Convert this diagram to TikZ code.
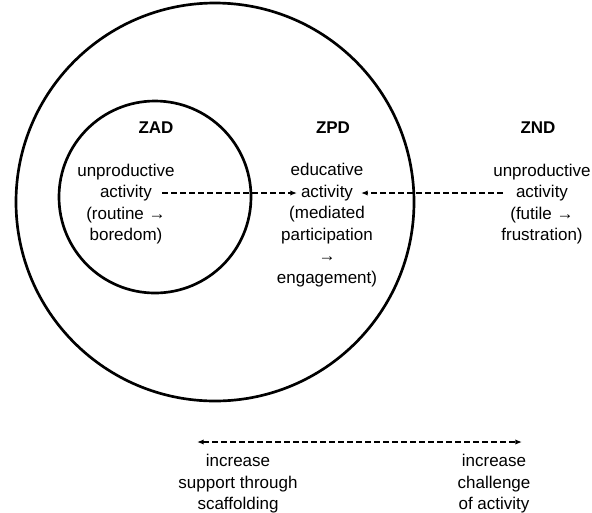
\documentclass[tikz,border=0pt]{standalone}
\usepackage{fontspec}
\setmainfont{Liberation Sans}
\usetikzlibrary{arrows.meta}
\begin{document}
\begin{tikzpicture}[x=0.75pt,y=-0.75pt,
  zone/.style={draw=black,line width=2pt,circle,minimum size=#1,inner sep=0pt},
  lbl/.style={align=center,font=\fontsize{12.75}{16.1}\selectfont,inner sep=0pt},
  ttl/.style={font=\fontsize{12.75}{16.1}\selectfont\bfseries,inner sep=0pt},
  dar/.style={line width=1pt,dash pattern=on 4.5pt off 2.25pt,-{Latex[length=5pt,width=4pt]}},
  ddar/.style={line width=1pt,dash pattern=on 4.5pt off 2.25pt,{Latex[length=5pt,width=4pt]}-{Latex[length=5pt,width=4pt]}}]
\useasboundingbox (0,0) rectangle (592,512);
\node[zone=298.5pt] (big) at (215,202) {};
\node[zone=144pt] (small) at (155,197) {};
\node[ttl] (zad) at (156,128) {ZAD};
\node[ttl] (zpd) at (333,128) {ZPD};
\node[ttl] (znd) at (538,128) {ZND};
\node[lbl] (t1) at (126,204) {unproductive\\activity\\(routine →\\boredom)};
\node[lbl] (t2) at (327,225) {educative\\activity\\(mediated\\participation\\→\\engagement)};
\node[lbl] (t3) at (542,204) {unproductive\\activity\\(futile →\\frustration)};
\coordinate (a1s) at (162,193);
\coordinate (a1e) at (297,193);
\coordinate (a2s) at (503,193);
\coordinate (a2e) at (361,193);
\draw[dar] (a1s) -- (a1e);
\draw[dar] (a2s) -- (a2e);
\node[lbl] (l1) at (238,484) {increase\\support through\\scaffolding};
\node[lbl] (l2) at (494,484) {increase\\challenge\\of activity};
\coordinate (b1) at (197,442);
\coordinate (b2) at (522,442);
\draw[ddar] (b1) -- (b2);
\end{tikzpicture}
\end{document}
